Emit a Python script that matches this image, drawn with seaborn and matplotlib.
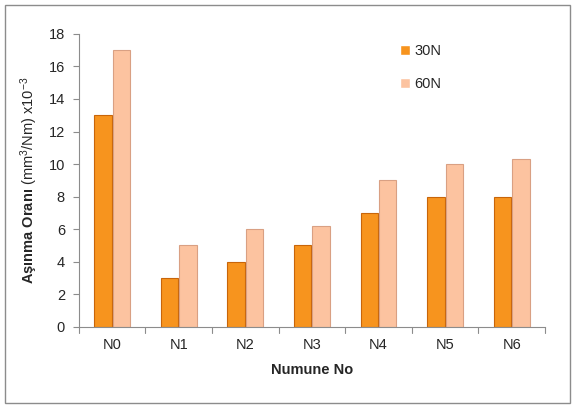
import matplotlib
matplotlib.use("Agg")
import matplotlib.pyplot as plt
import pandas as pd
import seaborn as sns
from matplotlib.patches import Rectangle

# data
samples = ["N0", "N1", "N2", "N3", "N4", "N5", "N6"]
load_30n = [13, 3, 4, 5, 7, 8, 8]
load_60n = [17, 5, 6, 6.2, 9, 10, 10.3]
loads = ["30N", "60N"]

df = pd.DataFrame({
    "Numune": samples * 2,
    "Yuk": [loads[0]] * len(samples) + [loads[1]] * len(samples),
    "Oran": load_30n + load_60n,
})

sns.set_style("white")
plt.rcParams["font.family"] = ["Liberation Sans", "DejaVu Sans"]
plt.rcParams["mathtext.fontset"] = "custom"
plt.rcParams["mathtext.rm"] = "Liberation Sans"
plt.rcParams["mathtext.bf"] = "Liberation Sans:bold"
plt.rcParams["mathtext.it"] = "Liberation Sans:italic"

fig = plt.figure(figsize=(5.75, 4.08), dpi=100)
ax = fig.add_axes([0.137, 0.199, 0.811, 0.718])

# figure border like the excel chart frame
fig.patches.append(Rectangle((0.009, 0.012), 0.982, 0.976, transform=fig.transFigure,
                             fill=False, edgecolor="#8c8c8c", linewidth=1.0))

pal = {"30N": "#F7941E", "60N": "#FCC3A0"}
sns.barplot(data=df, x="Numune", y="Oran", hue="Yuk", palette=pal,
            width=0.55, gap=0.05, ax=ax, legend=True, saturation=1)

edge = {"30N": "#C8650A", "60N": "#D9A083"}
for cont, name in zip(ax.containers, loads):
    for b in cont:
        b.set_edgecolor(edge[name])
        b.set_linewidth(0.8)

ax.set_ylim(0, 18)
ax.set_yticks(range(0, 19, 2))
ax.set_xlim(-0.5, len(samples) - 0.5)
ax.tick_params(axis="y", labelsize=10.5, length=4, color="#8c8c8c", direction="out", left=True, pad=6)
ax.tick_params(axis="x", labelsize=10.5, length=0, pad=8)
for s in ["top", "right"]:
    ax.spines[s].set_visible(False)
for s in ["left", "bottom"]:
    ax.spines[s].set_color("#8c8c8c")
    ax.spines[s].set_linewidth(0.8)
# category separators on the x axis
for i in range(len(samples) + 1):
    ax.plot([i - 0.5, i - 0.5], [0, -0.35], color="#8c8c8c", lw=0.8, clip_on=False)

ax.set_xlabel("Numune No", fontsize=10.5, fontweight="bold", labelpad=8)
ax.set_ylabel(r"$\mathbf{Aşınma\ Oranı}$ (mm$^3$/Nm) x10$^{-3}$", fontsize=10.5, labelpad=6)

leg = ax.legend(loc="upper left", bbox_to_anchor=(0.66, 1.01), frameon=False,
                fontsize=10.5, handlelength=0.7, handleheight=0.7, labelspacing=1.3,
                handletextpad=0.3)

fig.savefig("out.png", dpi=100)
